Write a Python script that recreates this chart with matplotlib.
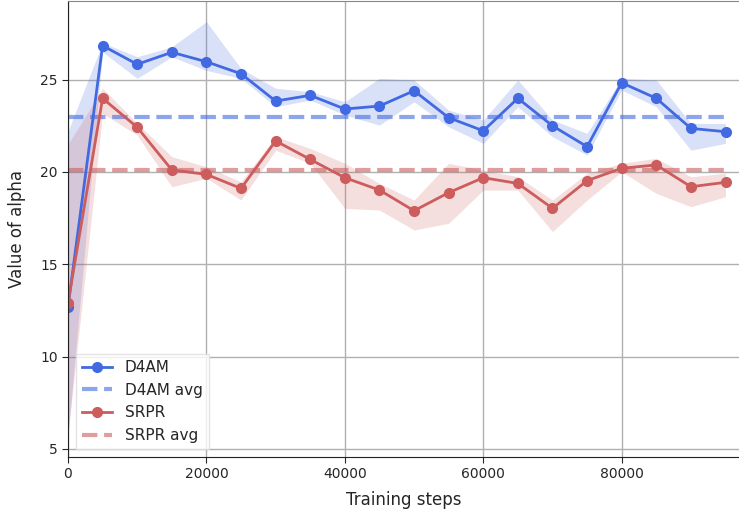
import matplotlib
matplotlib.use("Agg")
import matplotlib.pyplot as plt

steps = [0, 5000, 10000, 15000, 20000, 25000, 30000, 35000, 40000, 45000,
         50000, 55000, 60000, 65000, 70000, 75000, 80000, 85000, 90000, 95000]

d4am = [12.69, 26.84, 25.83, 26.48, 25.97, 25.32, 23.84, 24.15, 23.41, 23.57,
        24.40, 22.94, 22.23, 23.99, 22.50, 21.37, 24.83, 23.99, 22.36, 22.18]
d4am_hi = [22.2, 27.0, 26.24, 26.78, 28.14, 25.6, 24.53, 24.35, 23.8, 25.07,
           24.98, 23.35, 22.81, 24.98, 22.81, 22.09, 25.07, 24.98, 22.63, 22.63]
d4am_lo = [5.7, 26.5, 25.07, 26.24, 25.5, 25.07, 23.53, 23.9, 23.08, 22.54,
           23.8, 22.45, 21.55, 23.53, 21.91, 20.92, 24.44, 23.53, 21.18, 21.55]
d4am_avg = 23.0

srpr = [12.9, 23.99, 22.42, 20.11, 19.87, 19.11, 21.68, 20.68, 19.69, 19.02,
        17.90, 18.88, 19.69, 19.38, 18.03, 19.53, 20.20, 20.38, 19.20, 19.44]
srpr_hi = [21.5, 24.53, 22.63, 20.83, 20.28, 19.47, 21.91, 21.28, 20.47, 19.38,
           18.48, 20.47, 20.1, 19.74, 18.48, 19.93, 20.47, 20.74, 19.74, 19.93]
srpr_lo = [5.8, 23.17, 22.0, 19.2, 19.66, 18.48, 21.18, 20.47, 18.03, 17.94,
           16.86, 17.22, 19.02, 19.02, 16.77, 18.48, 20.01, 18.84, 18.12, 18.66]
srpr_avg = 20.1

blue = "#4169E1"
red = "#CD5C5C"
txt = "#262626"

fig = plt.figure(figsize=(7.39, 5.17), dpi=100)
ax = fig.add_axes([0.092, 0.1166, 0.908, 0.8815])

ax.grid(True, color="#b0b0b0", linewidth=1.0, zorder=0)
ax.set_axisbelow(True)

ax.fill_between(steps, d4am_lo, d4am_hi, color=blue, alpha=0.2, linewidth=0)
ax.fill_between(steps, srpr_lo, srpr_hi, color=red, alpha=0.2, linewidth=0)

ax.plot(steps, d4am, color=blue, marker="o", markersize=7, linewidth=2, label="D4AM")
ax.plot([steps[0], steps[-1]], [d4am_avg, d4am_avg], color=blue, alpha=0.6,
        linestyle="--", linewidth=3, label="D4AM avg")
ax.plot(steps, srpr, color=red, marker="o", markersize=7, linewidth=2, label="SRPR")
ax.plot([steps[0], steps[-1]], [srpr_avg, srpr_avg], color=red, alpha=0.6,
        linestyle="--", linewidth=3, label="SRPR avg")

ax.set_xlim(0, 96950)
ax.set_ylim(4.58, 29.26)
ax.set_xticks([0, 20000, 40000, 60000, 80000])
ax.set_yticks([5, 10, 15, 20, 25])

ax.tick_params(axis="both", labelsize=10, colors=txt, length=4, width=0.8)
ax.set_xlabel("Training steps", fontsize=12, color=txt, labelpad=7)
ax.set_ylabel("Value of alpha", fontsize=12, color=txt, labelpad=10)

ax.spines["right"].set_visible(False)
ax.spines["top"].set_color("#888888")
ax.spines["left"].set_color("#222222")
ax.spines["bottom"].set_color("#222222")

leg = ax.legend(loc="lower left", fontsize=11, frameon=True, framealpha=0.8,
                edgecolor="#dddddd", fancybox=False)
for t in leg.get_texts():
    t.set_color(txt)

fig.savefig("out.png", dpi=100)
